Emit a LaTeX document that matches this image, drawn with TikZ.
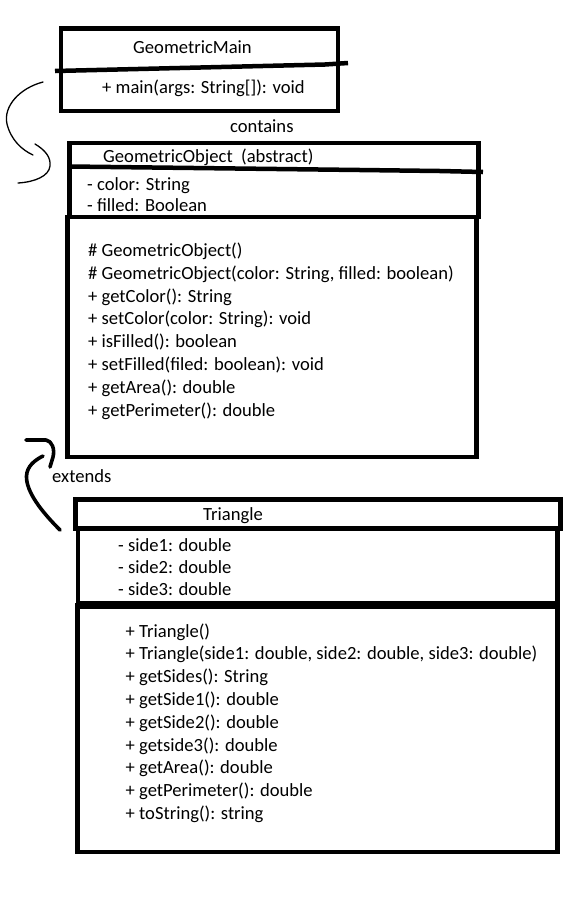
\documentclass[tikz,border=0pt]{standalone}
\usepackage{fontspec}
\setmainfont{Carlito}
\begin{document}
\begin{tikzpicture}[x=1pt,y=-1pt,
  box/.style={draw, line width=4.5pt, inner sep=0pt, outer sep=0pt, anchor=north west},
  txt/.style={anchor=base west, inner sep=0pt, font=\fontsize{18.6}{22.8}\selectfont},
  thinline/.style={line width=1.3pt, line cap=round, line join=round},
  thickline/.style={line width=3.6pt, line cap=round, line join=round},
  divider/.style={line width=4.5pt}]
\useasboundingbox[fill=white] (0,0) rectangle (576,903);

% GeometricMain
\node[box, minimum width=277pt, minimum height=82.5pt] (main) at (61,28.5) {};
\draw[divider] (55,71) -- (325,64.5) -- (348,63);
\node[txt] (mainT) at (133,53.5) {GeometricMain};
\node[txt] (mainM) at (102,93) {+ main(args: String[]): void};
\node[txt] (lblC) at (230,132.5) {contains};

% GeometricObject
\node[box, minimum width=409pt, minimum height=74pt] (goTop) at (69.5,143) {};
\node[box, minimum width=409pt, minimum height=240pt] (goLow) at (67.5,217) {};
\draw[divider] (69.5,166.5) -- (360,170) -- (440,171) -- (483,172);
\node[txt] (goT) at (103,162.5) {GeometricObject\ \ (abstract)};
\node[txt] (goA1) at (87,190.5) {- color: String};
\node[txt] (goA2) at (87,211) {- filled: Boolean};
\foreach \t [count=\i] in {\# GeometricObject(),
  {\# GeometricObject(color: String, filled: boolean)},
  + getColor(): String,
  + setColor(color: String): void,
  + isFilled(): boolean,
  + setFilled(filed: boolean): void,
  + getArea(): double,
  + getPerimeter(): double}
  \node[txt] (goM\i) at (88,{256.5+22.8*(\i-1)}) {\t};

% Triangle
\node[box, line width=5pt, minimum width=484.5pt, minimum height=28.5pt] (trHead) at (75.5,499.5) {};
\node[box, minimum width=479.5pt, minimum height=77pt] (trAttr) at (78,528) {};
\node[box, minimum width=480pt, minimum height=247pt] (trMeth) at (77.5,605) {};
\draw[line width=8pt] (trAttr.south west) -- (trAttr.south east);
\node[txt] (trT) at (203,520) {Triangle};
\foreach \t [count=\i] in {- side1: double, - side2: double, - side3: double}
  \node[txt] (trA\i) at (118,{551.5+22*(\i-1)}) {\t};
\foreach \t [count=\i] in {+ Triangle(),
  {+ Triangle(side1: double, side2: double, side3: double)},
  + getSides(): String,
  + getSide1(): double,
  + getSide2(): double,
  + getside3(): double,
  + getArea(): double,
  + getPerimeter(): double,
  + toString(): string}
  \node[txt] (trM\i) at (125.5,{637+22.8*(\i-1)}) {\t};
\node[txt] (lblE) at (52,482) {extends};

% contains arrow (hand drawn)
\coordinate (c1s) at (43,82);
\coordinate (c1e) at (33,155);
\coordinate (c2s) at (35,144);
\coordinate (c2e) at (18,183);
\draw[thinline] (c1s) .. controls (20,88) and (3,106) .. (7,124)
  .. controls (11,140) and (22,150) .. (c1e);
\draw[thinline] (c2s) .. controls (45,150) and (51,157) .. (50,166)
  .. controls (49,176) and (35,182) .. (c2e);

% extends arrow (hand drawn)
\coordinate (e1s) at (26,440);
\coordinate (e1e) at (50,467);
\coordinate (e2s) at (43,456);
\coordinate (e2e) at (60,530);
\draw[thickline] (e1s) -- (46,440) .. controls (52,441) and (55,449) .. (53,457) -- (e1e);
\draw[thickline] (e2s) .. controls (35,460) and (27,466) .. (26.5,476)
  .. controls (26,492) and (42,512) .. (e2e);
\end{tikzpicture}
\end{document}
